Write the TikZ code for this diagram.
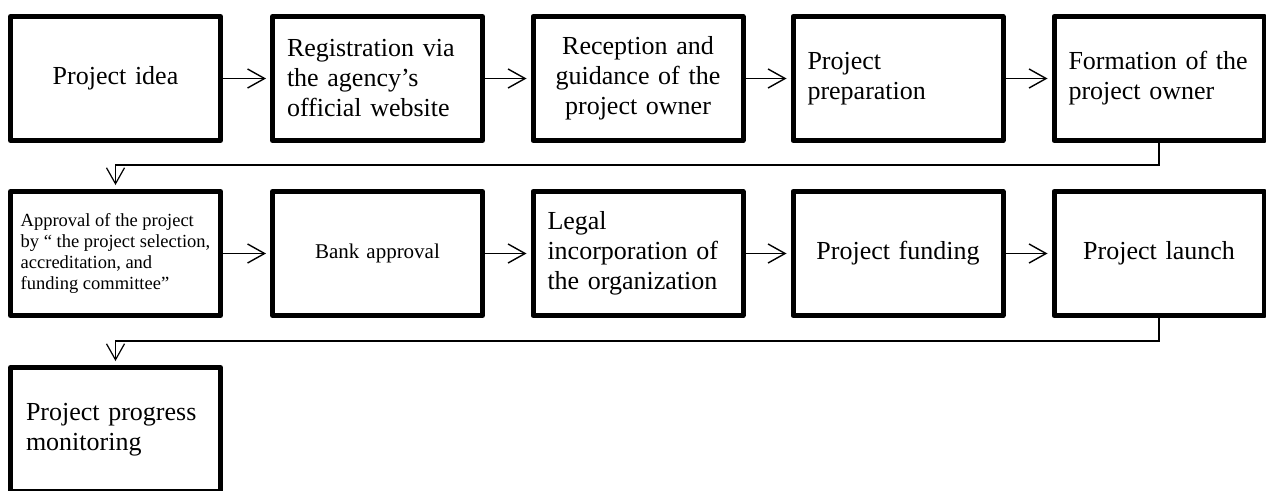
\documentclass[tikz,border=0pt]{standalone}
\usepackage{fontspec}
\setmainfont{Liberation Serif}
\usetikzlibrary{arrows.meta}
\begin{document}
\begin{tikzpicture}[x=1pt,y=-1pt,
  box/.style={draw, line width=5pt, line join=round, minimum width=210pt,
    minimum height=124pt, inner xsep=14.5pt, inner ysep=0pt, text width=181pt,
    font=\fontsize{26}{30}\selectfont},
  lbox/.style={box, align=left},
  cbox/.style={box, align=center},
  flow/.style={line width=1.4pt, -{Straight Barb[length=17pt,width=19pt]}, shorten >=4pt},
  conn/.style={line width=1.2pt, -{Straight Barb[length=16pt,width=18pt]}, shorten >=4pt}]
\useasboundingbox (0,0) rectangle (1266,490);
\clip (0,0) rectangle (1266,490);
% row 1
\node[cbox] (b1) at (115.5,78.5) {Project idea};
\node[lbox] (b2) at (377.5,78.5) {Registration via\\the agency’s\\official website};
\node[cbox] (b3) at (638,78.5) {Reception and\\guidance of the\\project owner};
\node[lbox] (b4) at (898,78.5) {Project\\preparation};
\node[lbox] (b5) at (1159,78.5) {Formation of the\\project owner};
% row 2
\node[draw, line width=5pt, line join=round, minimum width=210pt, minimum height=124pt,
  inner xsep=9pt, inner ysep=0pt, align=left, font=\fontsize{18.5}{21.3}\selectfont] (b6) at (115.5,253.5)
  {Approval of the project\\by “ the project selection,\\accreditation, and\\funding committee”};
\node[cbox, font=\fontsize{21}{24}\selectfont] (b7) at (377.5,253.5) {Bank approval};
\node[lbox] (b8) at (638,253.5) {Legal\\incorporation of\\the organization};
\node[cbox] (b9) at (898,253.5) {Project funding};
\node[cbox] (b10) at (1159,253.5) {Project launch};
% row 3
\node[lbox, inner xsep=15.5pt, text width=179pt] (b11) at (115.5,429.5) {Project progress\\monitoring};
% arrows
\draw[flow] (b1) -- (b2);
\draw[flow] (b2) -- (b3);
\draw[flow] (b3) -- (b4);
\draw[flow] (b4) -- (b5);
\draw[flow] (b6) -- (b7);
\draw[flow] (b7) -- (b8);
\draw[flow] (b8) -- (b9);
\draw[flow] (b9) -- (b10);
\coordinate (k1) at (1159,165);
\coordinate (k2) at (1159,341);
\draw[conn] (b5.south) -- (k1) -| (b6.north);
\draw[conn] (b10.south) -- (k2) -| (b11.north);
\end{tikzpicture}
\end{document}
